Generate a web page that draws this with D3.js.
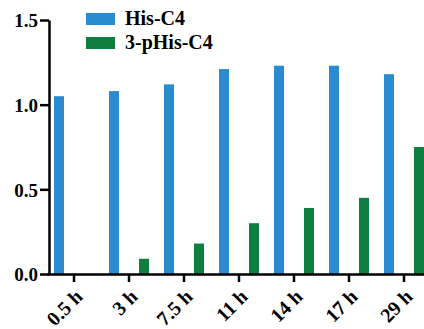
<!DOCTYPE html>
<html>
<head>
<meta charset="utf-8">
<script src="https://cdn.jsdelivr.net/npm/d3@7"></script>
<style>
  body { margin: 0; background: #fff; }
</style>
</head>
<body>
<div id="chart"></div>
<script>
var categories = ["0.5 h", "3 h", "7.5 h", "11 h", "14 h", "17 h", "29 h"];
var seriesNames = ["His-C4", "3-pHis-C4"];
var hisC4 = [1.05, 1.08, 1.12, 1.21, 1.23, 1.23, 1.18];
var pHisC4 = [0, 0.09, 0.18, 0.30, 0.39, 0.45, 0.75];
var yTicks = [0, 0.5, 1.0, 1.5];
var colors = ["#2a8bd0", "#0f7f3f"];

var fontFam = "Liberation Serif";

var svgWidth = 424;
var svgHeight = 329;

var margin = {
  top: 20,
  left: 49
};

var chartHeight = 254;

var svg = d3.select("#chart")
  .append("svg")
  .attr("width", svgWidth)
  .attr("height", svgHeight);

var chartGroup = svg.append("g")
  .attr("transform", `translate(${margin.left}, ${margin.top})`);

// group scale: one 55px slot per time point
var x0 = d3.scaleBand()
  .domain(categories)
  .range([-2.5, 382.5])
  .padding(0);

// bar scale inside a slot
var x1 = d3.scaleBand()
  .domain(seriesNames)
  .range([7.5, 47.5])
  .paddingInner(2 / 3)
  .paddingOuter(0);

var y = d3.scaleLinear()
  .domain([0, 1.5])
  .range([chartHeight, 0]);

var rows = categories.map((c, i) => ({
  cat: c,
  vals: [
    {name: seriesNames[0], value: hisC4[i], color: colors[0]},
    {name: seriesNames[1], value: pHisC4[i], color: colors[1]}
  ]
}));

chartGroup.selectAll(".grp")
  .data(rows)
  .enter()
  .append("g")
  .attr("class", "grp")
  .attr("transform", d => `translate(${x0(d.cat)}, 0)`)
  .selectAll("rect")
  .data(d => d.vals)
  .enter()
  .append("rect")
  .attr("x", d => x1(d.name))
  .attr("y", d => y(d.value))
  .attr("width", x1.bandwidth())
  .attr("height", d => chartHeight - y(d.value))
  .attr("fill", d => d.color);

// axes
var leftAxis = d3.axisLeft(y)
  .tickValues(yTicks)
  .tickFormat(d3.format(".1f"))
  .tickSize(9)
  .tickSizeOuter(0)
  .tickPadding(2);

var yAxisG = chartGroup.append("g").call(leftAxis);
yAxisG.select(".domain").attr("stroke-width", 2.5);
yAxisG.selectAll(".tick line").attr("stroke-width", 2.5);
yAxisG.selectAll("text")
  .attr("font-family", fontFam)
  .attr("font-weight", "bold")
  .attr("font-size", 19)
  .attr("dy", "0.36em");

var bottomAxis = d3.axisBottom(x0)
  .tickSize(8)
  .tickSizeOuter(0);

var xAxisG = chartGroup.append("g")
  .attr("transform", `translate(0, ${chartHeight})`)
  .call(bottomAxis);
xAxisG.select(".domain").attr("stroke-width", 2.5);
xAxisG.selectAll(".tick line").attr("stroke-width", 2.5);
xAxisG.selectAll("text")
  .attr("font-family", fontFam)
  .attr("font-weight", "bold")
  .attr("font-size", 20)
  .style("text-anchor", "end")
  .attr("x", 0)
  .attr("y", 0)
  .attr("dy", "0.35em")
  .attr("transform", "translate(5, 19) rotate(-45)");

// legend
var legend = svg.selectAll(".legend")
  .data(seriesNames)
  .enter()
  .append("g")
  .attr("class", "legend")
  .attr("transform", (d, i) => `translate(86, ${13 + i * 24})`);

legend.append("rect")
  .attr("width", 29)
  .attr("height", 12)
  .attr("fill", (d, i) => colors[i]);

legend.append("text")
  .attr("x", 39)
  .attr("y", 12)
  .attr("font-family", fontFam)
  .attr("font-weight", "bold")
  .attr("font-size", 20)
  .text(d => d);
</script>
</body>
</html>
